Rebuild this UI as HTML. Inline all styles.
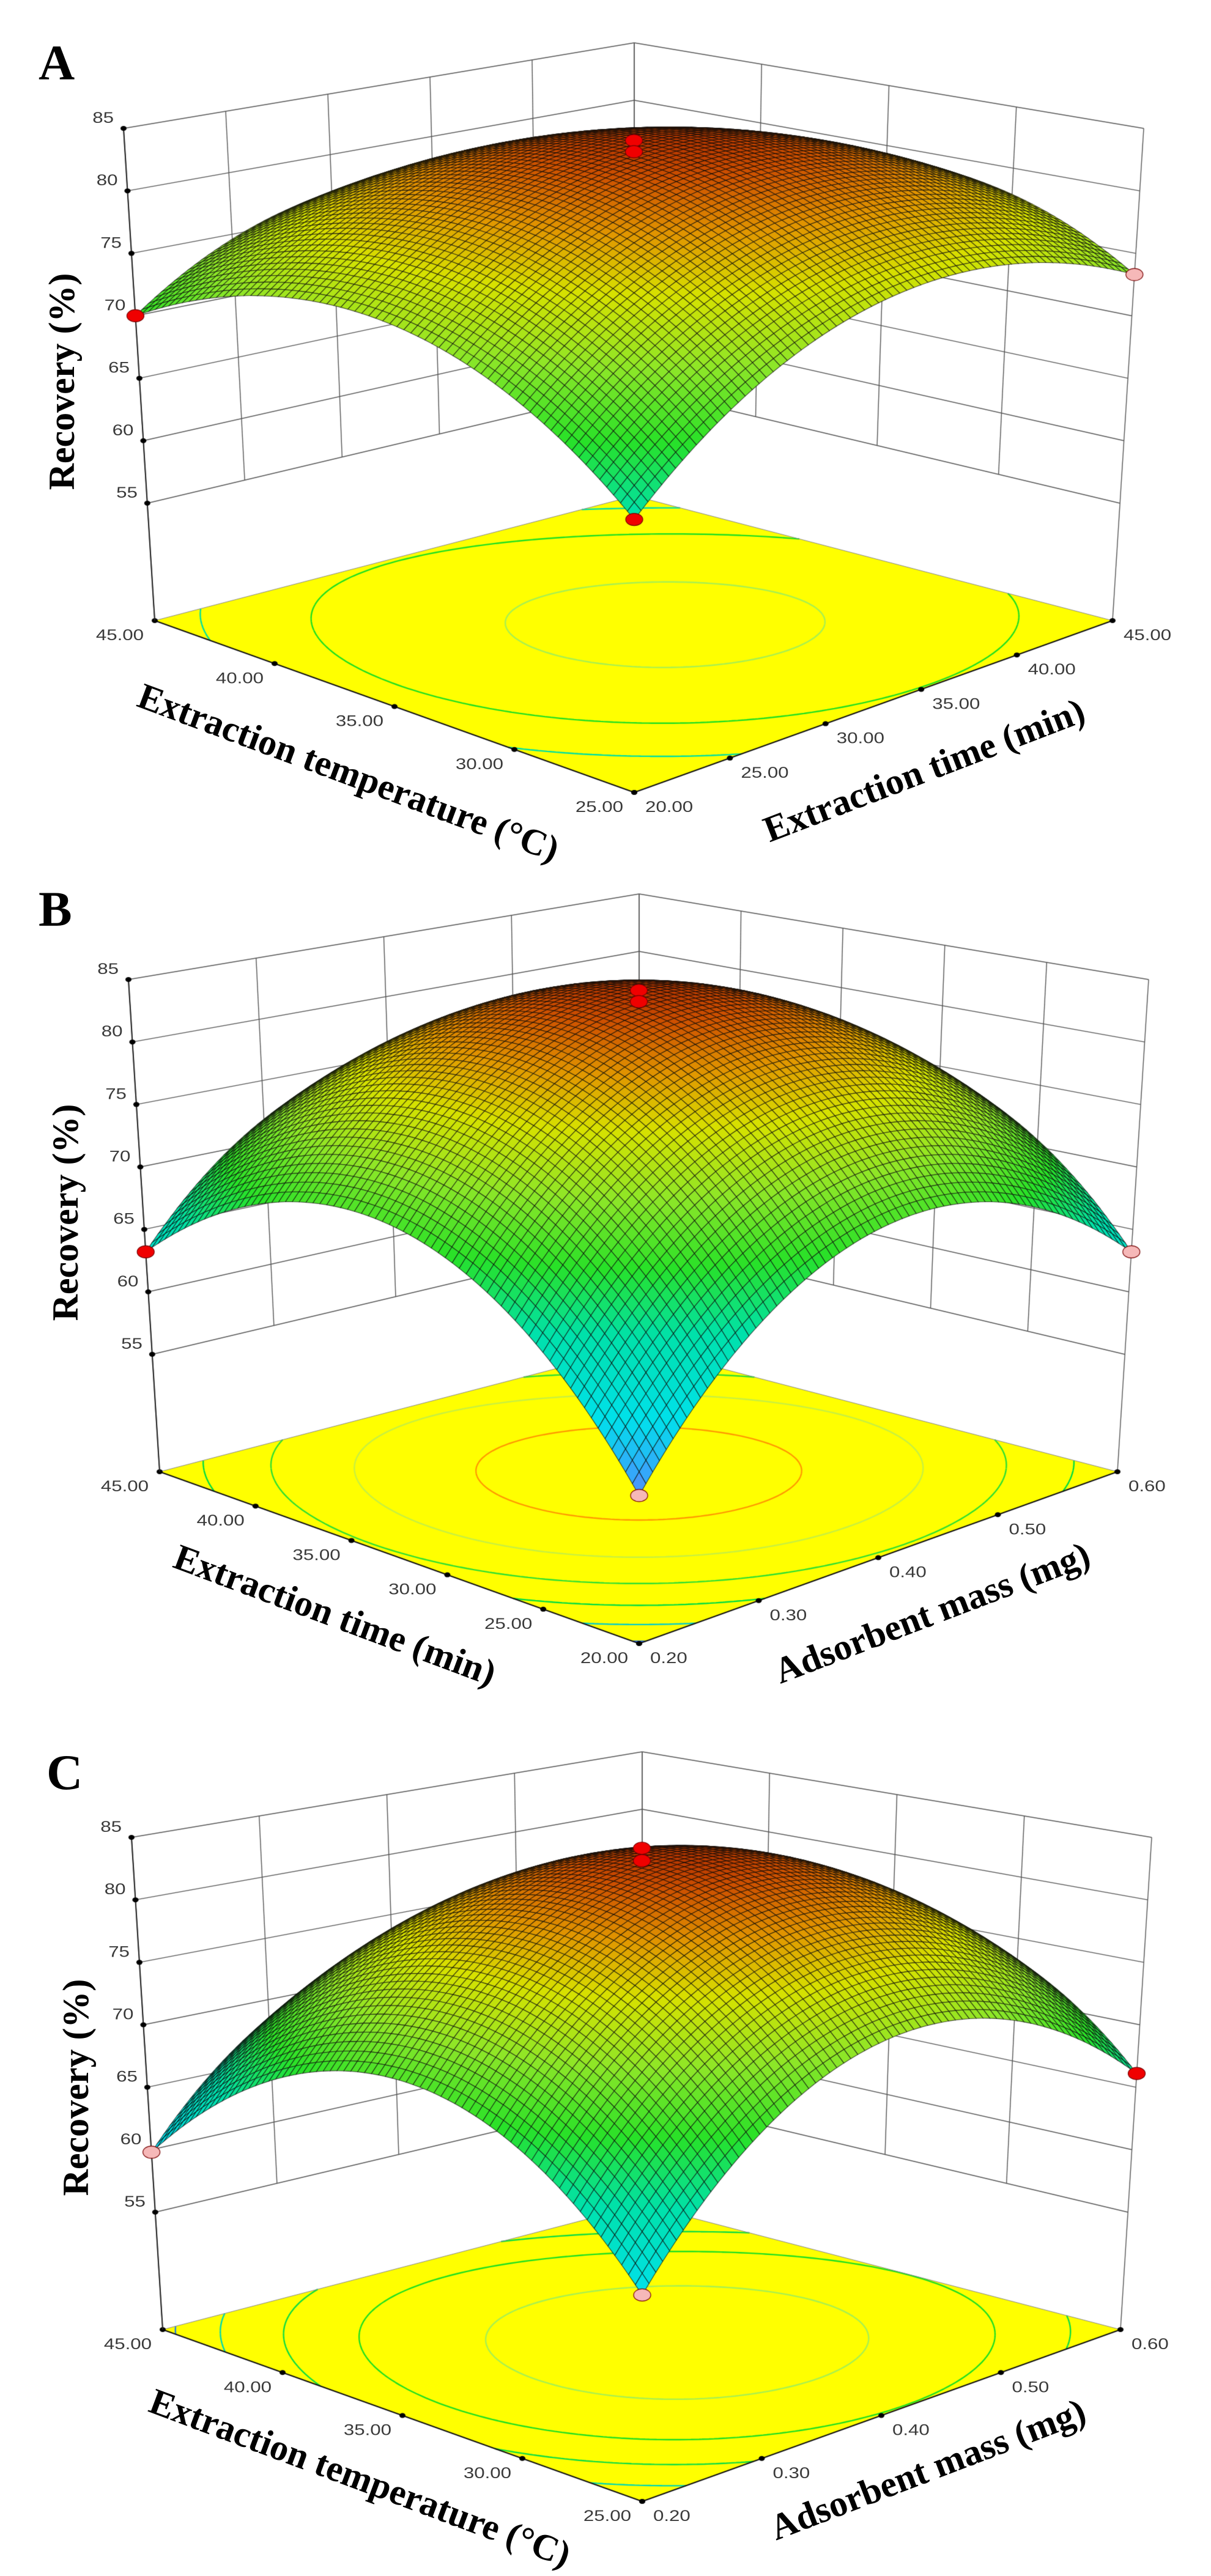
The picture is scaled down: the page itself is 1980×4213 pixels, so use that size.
<!DOCTYPE html>
<html><head><meta charset="utf-8"><style>
html,body{margin:0;padding:0;background:#fff;}
#wrap{position:relative;width:1980px;height:4213px;overflow:hidden;}
canvas,svg{position:absolute;left:0;top:0;}
.tk{font-family:"Liberation Sans",Arial,sans-serif;font-size:25px;fill:#3a3a3a;}
.ttl{font-family:"Liberation Serif","Times New Roman",serif;font-weight:bold;font-size:60px;fill:#000;}
.pl{font-family:"Liberation Serif","Times New Roman",serif;font-weight:bold;font-size:82px;fill:#000;}
</style></head><body>
<div id="wrap">
<canvas id="cv" width="1980" height="4213"></canvas>
<svg id="sv" width="1980" height="4213" xmlns="http://www.w3.org/2000/svg"></svg>
</div>
<script>
// ---------- data (response-surface model coefficients, coded units) ----------
const panelNames = ["A","B","C"];
const x1Titles = ["Extraction temperature (\u00B0C)","Extraction time (min)","Extraction temperature (\u00B0C)"];
const x2Titles = ["Extraction time (min)","Adsorbent mass (mg)","Adsorbent mass (mg)"];
const x1Ticks = [[25,30,35,40,45],[20,25,30,35,40,45],[25,30,35,40,45]];
const x2Ticks = [[20,25,30,35,40,45],[0.2,0.3,0.4,0.5,0.6],[0.2,0.3,0.4,0.5,0.6]];
const zTicks = [55,60,65,70,75,80,85];
const b0  = [84.3, 84.3, 84.3];
const b1  = [0.15, 1.85, -1.5];
const b2  = [1.8, 1.85, 1.65];
const b12 = [-2.0, -1.5, -1.0];
const b11 = [-7.325, -11.3, -11.175];
const b22 = [-7.325, -11.3, -11.175];
// design points (coded x1, coded x2, recovery)
const ptX1 = [[0,0,1,-1,-1],[0,0,1,-1,-1],[0,0,1,-1,-1]];
const ptX2 = [[0,0,-1,1,-1],[0,0,-1,1,-1],[0,0,-1,1,-1]];
const ptY  = [[84.9,84.0,70.0,73.3,65.7],[85.0,84.1,63.2,63.2,56.5],[85.0,84.0,59.8,66.1,60.8]];
const ptAbove = [[1,1,1,0,1],[1,1,1,0,0],[1,1,0,1,0]];
// floor contour levels
const cLevels = [[83,77.5,72.5],[82,77,72,67,62,57.2],[81,75,70,65,61]];
const cColors = [["#a8f050","#20e020","#00e0a0"],["#ff9a00","#c8f040","#30e030","#00dd40","#00cccc","#3070e0"],["#a8f050","#20e020","#10dd40","#00d8b0","#2080e0"]];

// ---------- geometry ----------
const offs = [[0,0],[8,1392],[13,2795]];
const FL={F:[1037,1296],L:[253,1015],R:[1819,1015],K:[1037,811]};
const TP={F:[1037,421],L:[202,210],R:[1870,210],K:[1037,70]};
const ZT=85, ZF=45.6;
const titleL=[[563,1262],[541,1248],[582,1256]];
const titleR=[[1518,1258],[1531,1244],[1524,1242]];
const recY=[624,591,619], recX=[101,107,124];
const letterPos=[[63,130],[63,1514],[76,2926]];

const cv=document.getElementById('cv'), ctx=cv.getContext('2d');
const sv=document.getElementById('sv'); const NS="http://www.w3.org/2000/svg";
ctx.fillStyle="#fff";ctx.fillRect(0,0,1980,4213);

function bil(C,a,b){return [C.F[0]*(1-a)*(1-b)+C.L[0]*a*(1-b)+C.R[0]*(1-a)*b+C.K[0]*a*b,
  C.F[1]*(1-a)*(1-b)+C.L[1]*a*(1-b)+C.R[1]*(1-a)*b+C.K[1]*a*b];}
function proj(p,u,v,z){const a=(u+1)/2,b=(v+1)/2;const f=bil(FL,a,b),t=bil(TP,a,b);const s=(z-ZF)/(ZT-ZF);
  return [f[0]+(t[0]-f[0])*s+offs[p][0], f[1]+(t[1]-f[1])*s+offs[p][1]];}
function model(p,u,v){return b0[p]+b1[p]*u+b2[p]*v+b12[p]*u*v+b11[p]*u*u+b22[p]*v*v;}
const stops=[[55,[120,110,250]],[58,[50,170,250]],[61,[0,225,235]],[66,[0,225,170]],[70,[40,225,40]],[74,[140,230,40]],[78,[215,225,0]],[81,[225,150,0]],[83.5,[205,80,0]],[85,[170,40,0]]];
function cmap(z){if(z<=stops[0][0])return stops[0][1];for(let i=1;i<stops.length;i++){if(z<=stops[i][0]){const t=(z-stops[i-1][0])/(stops[i][0]-stops[i-1][0]);const A=stops[i-1][1],B=stops[i][1];return [0,1,2].map(k=>Math.round(A[k]+(B[k]-A[k])*t));}}return stops[stops.length-1][1];}
function line(a,b,w,c){ctx.beginPath();ctx.moveTo(a[0],a[1]);ctx.lineTo(b[0],b[1]);ctx.lineWidth=w;ctx.strokeStyle=c;ctx.stroke();}
function dot(q,r,c){ctx.beginPath();ctx.ellipse(q[0],q[1],r,r*0.8,0,0,7);ctx.fillStyle=c;ctx.fill();}
function txt(s,x,y,cls,anchor,tr,name){const t=document.createElementNS(NS,'text');t.setAttribute('class',cls);
  t.setAttribute('text-anchor',anchor);t.setAttribute('transform','translate('+x+','+y+')'+(tr||''));t.textContent=s;
  
  
  sv.appendChild(t);}
function code(val,arr){const lo=arr[0],hi=arr[arr.length-1];return -1+2*(val-lo)/(hi-lo);}
function fmt(v){return v.toFixed(2);}

for(let p=0;p<3;p++){
  const xt1=x1Ticks[p], xt2=x2Ticks[p];
  zTicks.forEach(z=>{line(proj(p,1,-1,z),proj(p,1,1,z),1.4,"#555");line(proj(p,1,1,z),proj(p,-1,1,z),1.4,"#555");});
  xt2.forEach(t=>{const v=code(t,xt2);line(proj(p,1,v,v<=-0.999?ZF:55),proj(p,1,v,ZT),1.4,"#555");});
  xt1.forEach(t=>{const u=code(t,xt1);line(proj(p,u,1,u<=-0.999?ZF:55),proj(p,u,1,ZT),1.4,"#555");});
  const F=proj(p,-1,-1,ZF),L=proj(p,1,-1,ZF),K=proj(p,1,1,ZF),R=proj(p,-1,1,ZF);
  ctx.beginPath();ctx.moveTo(F[0],F[1]);ctx.lineTo(L[0],L[1]);ctx.lineTo(K[0],K[1]);ctx.lineTo(R[0],R[1]);ctx.closePath();
  ctx.fillStyle="#ffff00";ctx.fill();
  const N=90;
  cLevels[p].forEach((lv,li)=>{ctx.strokeStyle=cColors[p][li];ctx.lineWidth=2.4;ctx.beginPath();
    for(let i=0;i<N;i++)for(let j=0;j<N;j++){const u0=-1+2*i/N,u1=-1+2*(i+1)/N,v0=-1+2*j/N,v1=-1+2*(j+1)/N;
      const c=[[u0,v0],[u1,v0],[u1,v1],[u0,v1]];const zz=c.map(q=>model(p,q[0],q[1])-lv);const pts=[];
      for(let e=0;e<4;e++){const a=e,b=(e+1)%4;if((zz[a]>0)!==(zz[b]>0)){const t=zz[a]/(zz[a]-zz[b]);pts.push([c[a][0]+(c[b][0]-c[a][0])*t,c[a][1]+(c[b][1]-c[a][1])*t]);}}
      if(pts.length===2){const A=proj(p,pts[0][0],pts[0][1],ZF),B=proj(p,pts[1][0],pts[1][1],ZF);ctx.moveTo(A[0],A[1]);ctx.lineTo(B[0],B[1]);}}
    ctx.stroke();});
  line(L,K,1,"#888");line(K,R,1,"#888");
  line(F,L,2,"#111");line(F,R,2,"#111");
  xt1.forEach(t=>{const u=code(t,xt1);const q=proj(p,u,-1,ZF);dot(q,5,"#000");
    txt(fmt(t),q[0]-18,q[1]+32,'tk','end',' scale(1.25,1)','x1-tick-label');});
  xt2.forEach(t=>{const v=code(t,xt2);const q=proj(p,-1,v,ZF);dot(q,5,"#000");
    txt(fmt(t),q[0]+18,q[1]+32,'tk','start',' scale(1.25,1)','x2-tick-label');});
  line(proj(p,1,-1,ZF),proj(p,1,-1,ZT),2,"#222");
  zTicks.forEach(z=>{const q=proj(p,1,-1,z);dot(q,5,"#000");
    txt(String(z),q[0]-16,q[1]-9,'tk','end',' scale(1.25,1)','z-tick-label');});
  const M=72;const Z=[];for(let i=0;i<=M;i++){Z.push([]);for(let j=0;j<=M;j++)Z[i].push(model(p,-1+2*i/M,-1+2*j/M));}
  const P=[];for(let i=0;i<=M;i++){P.push([]);for(let j=0;j<=M;j++)P[i].push(proj(p,-1+2*i/M,-1+2*j/M,Z[i][j]));}
  ctx.lineWidth=1.1;ctx.strokeStyle="rgba(10,10,10,0.72)";
  for(let s=2*M-2;s>=0;s--){for(let i=Math.max(0,s-M+1);i<=Math.min(M-1,s);i++){const j=s-i;
    const zc=(Z[i][j]+Z[i+1][j]+Z[i][j+1]+Z[i+1][j+1])/4;const c=cmap(zc);
    ctx.beginPath();ctx.moveTo(P[i][j][0],P[i][j][1]);ctx.lineTo(P[i+1][j][0],P[i+1][j][1]);ctx.lineTo(P[i+1][j+1][0],P[i+1][j+1][1]);ctx.lineTo(P[i][j+1][0],P[i][j+1][1]);ctx.closePath();
    ctx.fillStyle='rgb('+c[0]+','+c[1]+','+c[2]+')';ctx.fill();ctx.stroke();}}
  for(let k=0;k<ptY[p].length;k++){const q=proj(p,ptX1[p][k],ptX2[p][k],ptY[p][k]);
    ctx.beginPath();ctx.ellipse(q[0],q[1],14,10,0,0,7);ctx.fillStyle=ptAbove[p][k]?"#f00000":"#f6b8b8";ctx.fill();ctx.lineWidth=1.2;ctx.strokeStyle="#700";ctx.stroke();}
  txt(panelNames[p],letterPos[p][0],letterPos[p][1],'pl','start','','panel-label');
  txt("Recovery (%)",recX[p]+20,offs[p][1]+recY[p],'ttl','middle',' rotate(-90)','z-axis-title');
  txt(x1Titles[p],titleL[p][0],offs[p][1]+titleL[p][1]+20,'ttl','middle',' rotate(20.5)','x1-axis-title');
  txt(x2Titles[p],titleR[p][0],offs[p][1]+titleR[p][1]+20,'ttl','middle',' rotate(-21)','x2-axis-title');
}
</script>
</body></html>
